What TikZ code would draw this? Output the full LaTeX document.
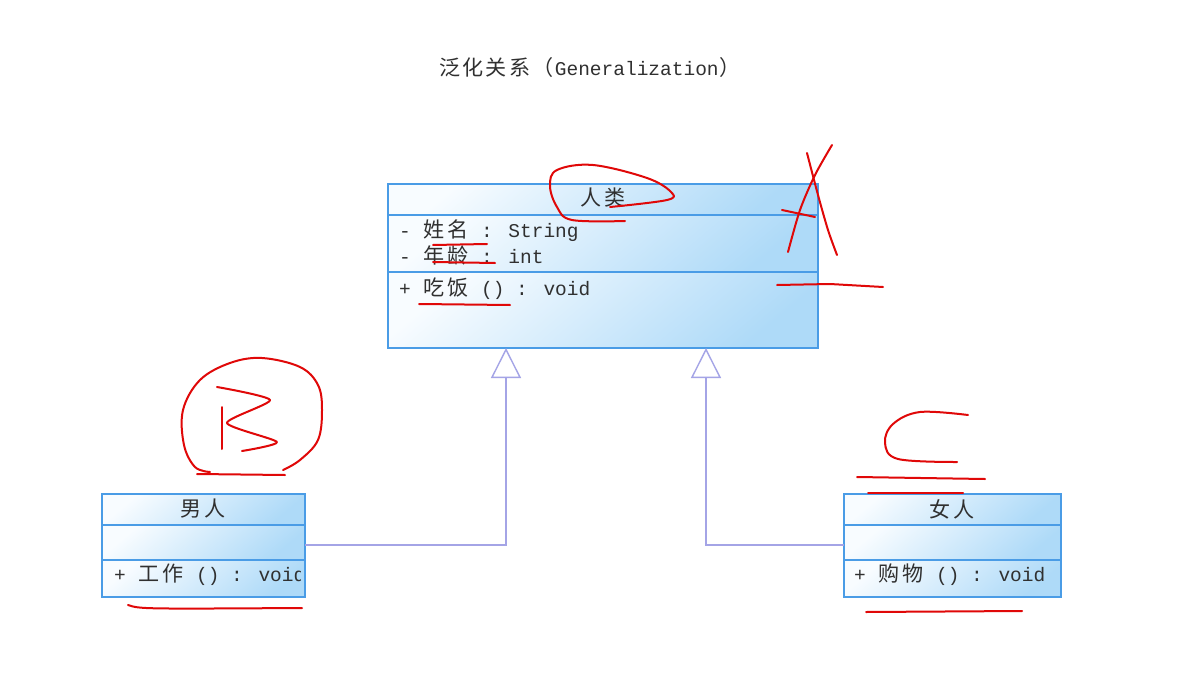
\documentclass[tikz,border=0pt]{standalone}
\usepackage{fontspec}
\setmainfont{Liberation Mono}
\newfontfamily\cjk[Scale=1.08]{Noto Sans CJK SC}
\newcommand\cc[1]{\makebox[23.4pt]{\cjk #1}}
\usetikzlibrary{arrows.meta}
\definecolor{boxline}{HTML}{4A9CE6}
\definecolor{boxlight}{HTML}{F8FCFF}
\definecolor{boxdark}{HTML}{AEDAF8}
\definecolor{genline}{HTML}{A4A4E6}
\definecolor{pen}{HTML}{E00808}
\definecolor{txt}{HTML}{303030}
\tikzset{
  comp/.style={draw=boxline, line width=1.3pt, inner sep=0pt, outer sep=0pt,
    top color=boxlight, bottom color=boxdark, shading angle=40},
  lbl/.style={inner sep=0pt, text=txt, font=\fontsize{19.5}{22}\selectfont},
  gen/.style={draw=genline, line width=1.4pt,
    -{Triangle[open, length=30pt, width=30pt, line width=1.4pt]}},
  ink/.style={draw=pen, line width=2pt, line cap=round, line join=round}
}
\begin{document}
\begin{tikzpicture}[x=1pt, y=-1pt]
\useasboundingbox[fill=white] (0,0) rectangle (1186,685);
% title
\node[lbl] (title) at (590,67) {\cc{泛}\cc{化}\cc{关}\cc{系}\cc{（}Generalization\cc{）}};
% class 人类
\node[comp, minimum width=430pt, minimum height=31pt] (hH) at (603,199.5) {};
\node[comp, minimum width=430pt, minimum height=57pt] (hA) at (603,243.5) {};
\node[comp, minimum width=430pt, minimum height=76pt] (hM) at (603,310) {};
\node[lbl] (hName) at (603,198) {\cc{人}\cc{类}};
\node[lbl, anchor=west] (hA1) at (399,231) {- \cc{姓}\cc{名} : String};
\node[lbl, anchor=west] (hA2) at (399,255) {- \cc{年}\cc{龄} : int};
\node[lbl, anchor=west] (hM1) at (399,289) {+ \cc{吃}\cc{饭} () : void};
% class 男人
\node[comp, minimum width=203pt, minimum height=31pt] (mH) at (203.5,509.5) {};
\node[comp, minimum width=203pt, minimum height=35pt] (mA) at (203.5,542.5) {};
\node[comp, minimum width=203pt, minimum height=37pt] (mM) at (203.5,578.5) {};
\node[lbl] (mName) at (203,509) {\cc{男}\cc{人}};
\begin{scope}
\clip (102,560) rectangle (300,597);
\node[lbl, anchor=west] (mM1) at (114,575) {+ \cc{工}\cc{作} () : void};
\end{scope}
% class 女人
\node[comp, minimum width=217pt, minimum height=31pt] (wH) at (952.5,509.5) {};
\node[comp, minimum width=217pt, minimum height=35pt] (wA) at (952.5,542.5) {};
\node[comp, minimum width=217pt, minimum height=37pt] (wM) at (952.5,578.5) {};
\node[lbl] (wName) at (952,509) {\cc{女}\cc{人}};
\node[lbl, anchor=west] (wM1) at (854,575) {+ \cc{购}\cc{物} () : void};
% generalization connectors
\coordinate (t1) at (506,348);
\coordinate (t2) at (706,348);
\draw[gen] ([yshift=-2.5pt]mA.east) -| (t1);
\draw[gen] ([yshift=-2.5pt]wA.west) -| (t2);
% red annotations
\draw[ink] plot[smooth, tension=0.6] coordinates {(610,207) (667,200) (671,192) (647,178) (593,165) (557,170) (550,186) (557,207) (572,220) (625,221)};
\draw[ink] plot[smooth] coordinates {(832,145) (815,175) (800,210) (788,252)};
\draw[ink] plot[smooth] coordinates {(807,153) (818,195) (828,230) (837,255)};
\draw[ink] (782,210) -- (815,217);
\draw[ink] (777,285) -- (830,284) -- (883,287);
\draw[ink] (433,245) -- (487,244);
\draw[ink] (433,262) -- (495,263);
\draw[ink] (419,304) -- (510,305);
% B
\draw[ink] plot[smooth, tension=0.6] coordinates {(283,470) (300,460) (318,440) (322,410) (318,385) (300,367) (262,358) (230,363) (200,380) (183,410) (184,445) (195,467) (210,472)};
\draw[ink] (197,474) -- (285,475);
\draw[ink] (222,407) -- (222,449);
\draw[ink] plot[smooth, tension=0.4] coordinates {(217,387) (270,400) (227,423) (277,442) (242,451)};
\draw[ink] (128,605) .. controls (140,609) .. (302,608);
% C
\draw[ink] plot[smooth, tension=0.6] coordinates {(968,415) (920,412) (893,424) (885,443) (898,459) (957,462)};
\draw[ink] (857,477) -- (985,479);
\draw[ink] (868,493) -- (963,493);
\draw[ink] (866,612) -- (1022,611);
\end{tikzpicture}
\end{document}
